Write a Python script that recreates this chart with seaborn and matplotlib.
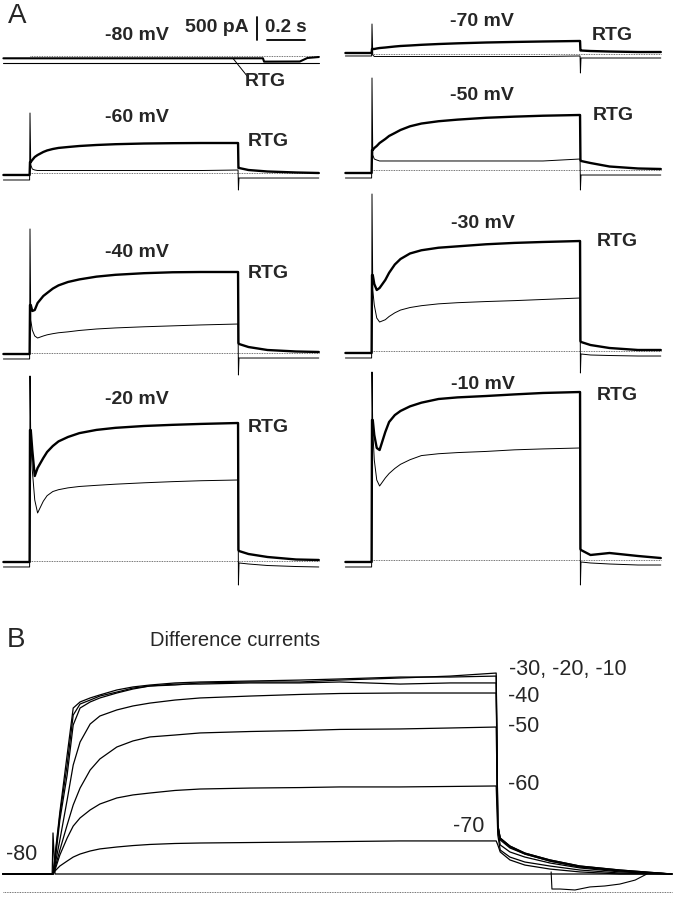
import matplotlib
matplotlib.use('Agg')
import matplotlib.pyplot as plt
import seaborn as sns

sns.set_theme(style='white')
plt.rcParams['font.family'] = ['Liberation Sans', 'DejaVu Sans']

# ---------------- panel A data (time in s, current in pA) ----------------
t_A = [-0.14, -0.002, 0.0, 0.004, 0.012, 0.025, 0.04, 0.07, 0.09, 0.12, 0.15, 0.2, 0.26,
       0.35, 0.45, 0.6, 0.75, 0.9, 1.095, 1.097, 1.10, 1.15, 1.25, 1.4, 1.52]

# -80 mV has its own sampling
t_m80_rtg = [-0.14, 1.226, 1.232, 1.42, 1.46, 1.52]
rtg_m80 = [-50, -50, -123, -120, -43, -22]
t_m80_ctl = [-0.14, 1.52]
ctl_m80 = [-159, -159]

rtg_m60 = [-43, -43, 239, 239, 283, 348, 391, 457, 490, 522, 545, 565, 587, 609, 626, 641, 648, 652, 652,
           109, 109, 65, 33, 11, 0]
ctl_m60 = [-152, -152, 1304, 174, 87, 65, 54, 54, 54, 54, 54, 54, 54, 54, 54, 54, 54, 54, 65,
           -370, -109, -109, -109, -109, -109]
rtg_m40 = [-22, -22, 1044, 1044, 913, 935, 1087, 1239, 1304, 1400, 1470, 1544, 1600, 1660, 1700, 1735,
           1755, 1761, 1761, 217, 196, 130, 65, 33, 22]
ctl_m40 = [-130, -130, 2696, 717, 500, 370, 326, 370, 395, 420, 440, 460, 490, 522, 545, 570, 590, 610,
           630, -478, -109, -109, -109, -109, -109]
rtg_m20 = [-22, -22, 2848, 2848, 2413, 1848, 2022, 2239, 2370, 2500, 2600, 2696, 2780, 2850, 2895, 2935,
           2960, 2980, 3000, 239, 217, 152, 87, 33, 22]
ctl_m20 = [-130, -130, 4022, 2631, 1978, 1326, 1044, 1300, 1420, 1510, 1550, 1590, 1620, 1645, 1670,
           1700, 1725, 1745, 1761, -522, -43, -65, -98, -120, -130]
rtg_m70 = [22, 22, 109, 109, 109, 120, 130, 141, 150, 163, 174, 185, 200, 217, 232, 250, 262, 272, 283,
           76, 76, 65, 54, 43, 43]
ctl_m70 = [-43, -43, 652, -22, -54, -54, -54, -54, -54, -54, -54, -54, -54, -54, -54, -54, -54, -54,
           -43, -413, -87, -87, -87, -87, -87]
rtg_m50 = [-65, -65, 435, 435, 478, 522, 587, 674, 740, 804, 870, 950, 1010, 1060, 1095, 1135, 1160,
           1180, 1196, 217, 196, 152, 76, 33, 22]
ctl_m50 = [-174, -174, 2000, 326, 239, 217, 196, 196, 196, 196, 196, 196, 196, 196, 196, 196, 196, 196,
           239, -435, -109, -109, -109, -109, -109]
rtg_m30 = [-43, -43, 1652, 1652, 1457, 1326, 1370, 1544, 1700, 1880, 2000, 2120, 2190, 2245, 2275,
           2320, 2350, 2370, 2391, 217, 196, 130, 65, 22, 22]
ctl_m30 = [-152, -152, 3413, 1326, 1000, 717, 630, 680, 750, 830, 890, 945, 985, 1025, 1050, 1075,
           1095, 1120, 1152, -478, -65, -87, -98, -109, -109]
rtg_m10 = [-43, -43, 3044, 3044, 2717, 2435, 2391, 2783, 3000, 3150, 3240, 3340, 3420, 3500, 3535,
           3565, 3600, 3631, 3652, 239, 217, 109, 152, 87, 43]
ctl_m10 = [-152, -152, 4087, 2826, 2174, 1739, 1609, 1783, 1880, 1990, 2080, 2180, 2270, 2310, 2335,
           2360, 2395, 2415, 2435, -543, -43, -65, -87, -109, -109]

# ---------------- panel B data: difference currents ----------------
t_B = [-0.124, -0.002, 0.0, 0.005, 0.017, 0.035, 0.05, 0.067, 0.092, 0.116, 0.158,
       0.198, 0.24, 0.302, 0.364, 0.488, 0.611, 0.71, 0.859, 0.983, 1.097,
       1.101, 1.107, 1.131, 1.168, 1.23, 1.304, 1.403, 1.532]
diff_m10 = [0, 0, 0, 119, 388, 745, 1039, 1077, 1102, 1121, 1152, 1171, 1183, 1196, 1202,
            1208, 1214, 1221, 1233, 1233, 1239, 307, 225, 175, 131, 88, 50, 25, 0]
diff_m20 = [0, 0, 0, 100, 369, 682, 995, 1064, 1089, 1114, 1139, 1164, 1177, 1183, 1196,
            1202, 1202, 1214, 1227, 1239, 1258, 307, 225, 175, 131, 88, 50, 25, 0]
diff_m30 = [0, 0, 0, 75, 338, 620, 933, 1039, 1077, 1102, 1133, 1158, 1177, 1189, 1189,
            1196, 1196, 1202, 1189, 1196, 1196, 307, 219, 169, 125, 81, 44, 19, 0]
diff_m40 = [0, 0, 0, 56, 213, 463, 682, 826, 939, 989, 1027, 1052, 1070, 1089, 1102,
            1114, 1124, 1130, 1133, 1133, 1133, 288, 213, 163, 125, 81, 44, 19, 0]
diff_m50 = [0, 0, 0, 38, 150, 307, 432, 538, 651, 720, 795, 833, 858, 870, 883,
            892, 898, 905, 908, 914, 920, 275, 182, 138, 106, 69, 38, 13, 0]
diff_m60 = [0, 0, 0, 25, 119, 225, 300, 351, 401, 438, 476, 495, 507, 523, 532,
            538, 541, 545, 545, 548, 551, 244, 150, 106, 75, 50, 25, 6, 0]
diff_m70 = [0, 0, 0, 19, 50, 81, 106, 125, 144, 157, 169, 178, 185, 191, 194,
            197, 200, 203, 207, 207, 207, 182, 138, 88, 56, 31, 13, 0, 0]
diff_m80 = [0, 0, 257, 0, 0, 0, 0, 0, 0, 0, 0, 0, 0, 0, 0,
            0, 0, 0, 0, 0, 0, 0, 0, 0, 0, 0, 0, 0, 0]
t_dip = [1.233, 1.235, 1.255, 1.292, 1.329, 1.366, 1.403, 1.441, 1.470]
dip = [13, -94, -94, -100, -81, -75, -63, -38, 0]

W, H = 680, 899
PA_PER_PX = 500 / 23
fig = plt.figure(figsize=(6.8, 8.99), dpi=100)


def make_ax(x0, x1, y0, y1, onset, px_s, zero, pa_px):
    ax = fig.add_axes([x0 / W, 1 - y1 / H, (x1 - x0) / W, (y1 - y0) / H])
    ax.set_xlim((x0 - onset) / px_s, (x1 - onset) / px_s)
    ax.set_ylim((zero - y1) * pa_px, (zero - y0) * pa_px)
    ax.axis('off')
    ax.patch.set_alpha(0)
    return ax


def trace(ax, t, y, lw, **kw):
    sns.lineplot(x=t, y=y, ax=ax, color='black', linewidth=lw, estimator=None,
                 sort=False, legend=False, clip_on=False, **kw)


def zero_line(ax, t0, t1, level=0):
    ax.plot([t0, t1], [level, level], color='#444444', lw=0.6, ls=(0, (1, 1)), clip_on=False)


def txt(x, y, s, size, weight='bold', ha='center'):
    fig.text(x / W, 1 - y / H, s, fontsize=size, fontweight=weight, ha=ha, va='center')


# panel A layout: (bold, thin, label, column, row box, zero px, label pos, RTG pos)
panels = [
    (rtg_m60, ctl_m60, '-60 mV', 0, (85, 190), 173, (137, 118), (268, 142)),
    (rtg_m40, ctl_m40, '-40 mV', 0, (190, 375), 353, (137, 252), (268, 273)),
    (rtg_m20, ctl_m20, '-20 mV', 0, (375, 600), 561, (137, 400), (268, 427)),
    (rtg_m70, ctl_m70, '-70 mV', 1, (0, 85), 54, (482, 22), (612, 35)),
    (rtg_m50, ctl_m50, '-50 mV', 1, (85, 190), 170, (482, 95), (613, 116)),
    (rtg_m30, ctl_m30, '-30 mV', 1, (190, 375), 351, (483, 223), (617, 242)),
    (rtg_m10, ctl_m10, '-10 mV', 1, (375, 600), 560, (483, 384), (617, 395)),
]
for bold, thin, lab, col, (ya, yb), zero, lpos, rpos in panels:
    if col == 0:
        ax = make_ax(0, 340, ya, yb, 30, 190, zero, PA_PER_PX)
    else:
        ax = make_ax(340, 680, ya, yb, 372, 190, zero, PA_PER_PX)
    zero_line(ax, 0.0, t_A[-1])
    trace(ax, t_A, thin, 0.7)
    trace(ax, t_A, bold, 1.7)
    txt(*lpos, lab, 14)
    txt(*rpos, 'RTG', 14)

# -80 mV panel with scale bars
ax80 = make_ax(0, 340, 0, 85, 30, 190, 56, PA_PER_PX)
zero_line(ax80, 0.0, 1.52)
trace(ax80, t_m80_ctl, ctl_m80, 0.8)
trace(ax80, t_m80_rtg, rtg_m80, 1.5)
ax80.plot([1.068, 1.147], [-50, -457], color='black', lw=0.7)
ax80.plot([1.195, 1.195], [348, 348 + 500], color='black', lw=1.3, clip_on=False)
ax80.plot([1.247, 1.247 + 0.2], [348, 348], color='black', lw=1.3, clip_on=False)
txt(137, 35, '-80 mV', 14)
txt(265, 81, 'RTG', 14)
txt(217, 27, '500 pA', 14)
txt(286, 27, '0.2 s', 13.5)
txt(8, 16, 'A', 20, weight='normal', ha='left')

# panel B
axB = make_ax(0, 680, 600, 899, 53, 404, 874, 6.26)
zero_line(axB, t_B[0], t_B[-1], level=-113)
for d in [diff_m80, diff_m70, diff_m60, diff_m50, diff_m40, diff_m30, diff_m20, diff_m10]:
    trace(axB, t_B, d, 0.9)
trace(axB, t_dip, dip, 0.8)

txt(7, 640, 'B', 20, weight='normal', ha='left')
txt(235, 640, 'Difference currents', 14.5, weight='normal')
txt(509, 670, '-30, -20, -10', 15.5, weight='normal', ha='left')
txt(508, 696, '-40', 15.5, weight='normal', ha='left')
txt(508, 726, '-50', 15.5, weight='normal', ha='left')
txt(508, 785, '-60', 15.5, weight='normal', ha='left')
txt(453, 826, '-70', 15.5, weight='normal', ha='left')
txt(6, 855, '-80', 15.5, weight='normal', ha='left')

fig.savefig('out.png', dpi=100, facecolor='white')
